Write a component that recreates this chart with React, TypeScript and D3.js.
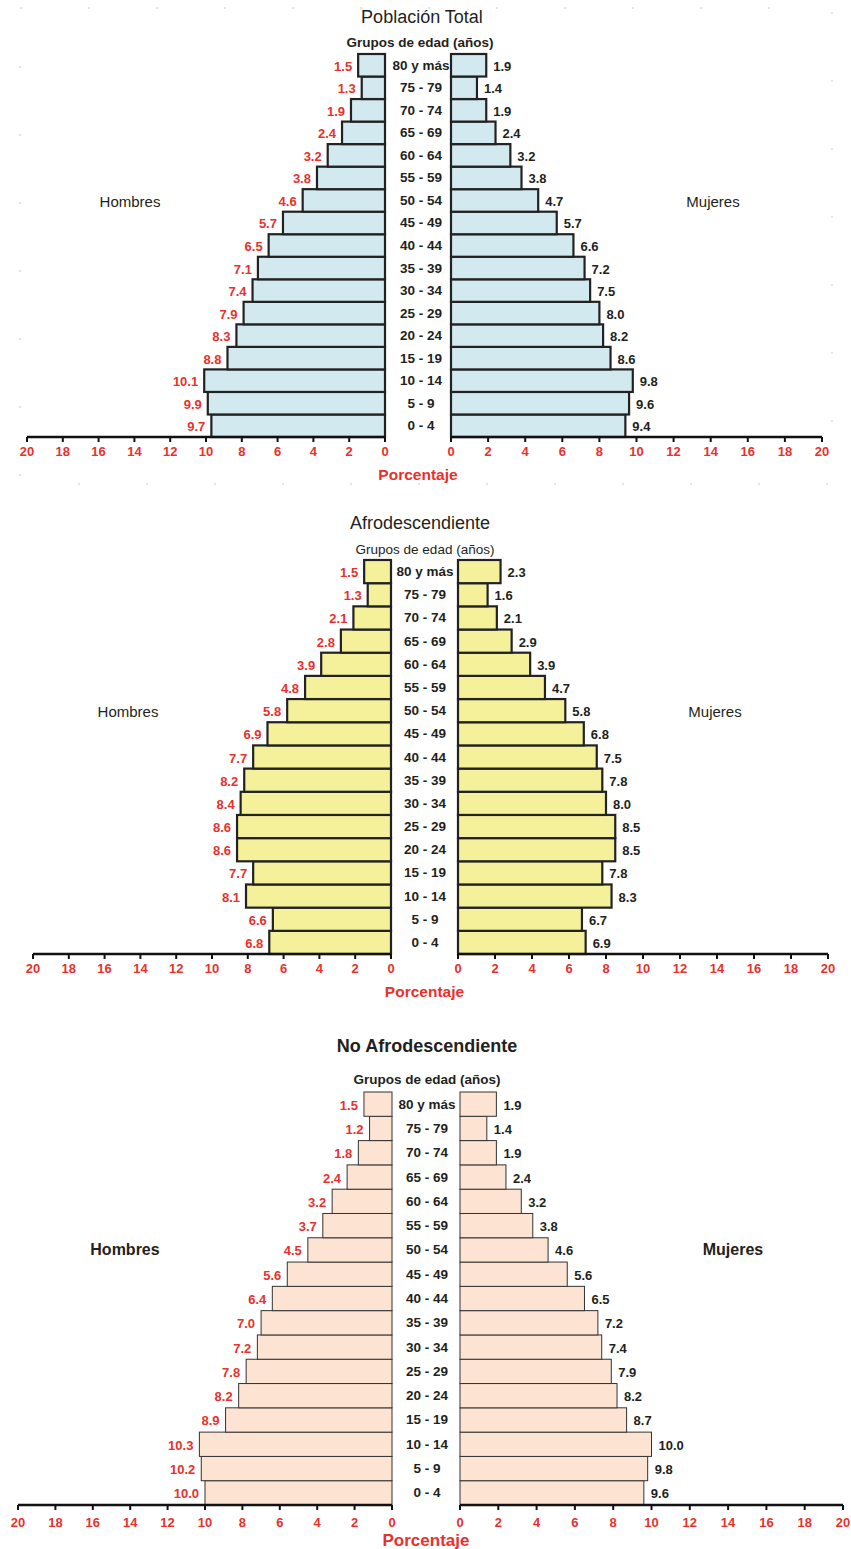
import React from "react";
import * as d3 from "d3";

// ---- Data (youngest to oldest) ----
const ageGroups = ["0 - 4", "5 - 9", "10 - 14", "15 - 19", "20 - 24", "25 - 29", "30 - 34", "35 - 39", "40 - 44", "45 - 49", "50 - 54", "55 - 59", "60 - 64", "65 - 69", "70 - 74", "75 - 79", "80 y más"];
const ticks = [0, 2, 4, 6, 8, 10, 12, 14, 16, 18, 20];

const totalMen = [9.7, 9.9, 10.1, 8.8, 8.3, 7.9, 7.4, 7.1, 6.5, 5.7, 4.6, 3.8, 3.2, 2.4, 1.9, 1.3, 1.5];
const totalWomen = [9.4, 9.6, 9.8, 8.6, 8.2, 8.0, 7.5, 7.2, 6.6, 5.7, 4.7, 3.8, 3.2, 2.4, 1.9, 1.4, 1.9];
const afroMen = [6.8, 6.6, 8.1, 7.7, 8.6, 8.6, 8.4, 8.2, 7.7, 6.9, 5.8, 4.8, 3.9, 2.8, 2.1, 1.3, 1.5];
const afroWomen = [6.9, 6.7, 8.3, 7.8, 8.5, 8.5, 8.0, 7.8, 7.5, 6.8, 5.8, 4.7, 3.9, 2.9, 2.1, 1.6, 2.3];
const noAfroMen = [10.0, 10.2, 10.3, 8.9, 8.2, 7.8, 7.2, 7.0, 6.4, 5.6, 4.5, 3.7, 3.2, 2.4, 1.8, 1.2, 1.5];
const noAfroWomen = [9.6, 9.8, 10.0, 8.7, 8.2, 7.9, 7.4, 7.2, 6.5, 5.6, 4.6, 3.8, 3.2, 2.4, 1.9, 1.4, 1.9];

const FONT = "'Liberation Sans Narrow', 'Liberation Sans', Arial, sans-serif";
const RED = "#e8312c";
const DARK = "#231f20";

type PanelCfg = {
  title: string;
  titleX: number; titleY: number; titleBold: boolean;
  subX: number; subY: number; subBold: boolean;
  barTop: number; barBottom: number;
  leftX0: number; leftX20: number; rightX0: number; rightX20: number;
  labelX: number;
  hombresX: number; mujeresX: number; sideY: number; sideBold: boolean; sideSize: number;
  tickLabelY: number; porcY: number; porcSize: number;
  fill: string; strokeW: number; stroke: string;
  men: number[]; women: number[];
};

function Panel({ c }: { c: PanelCfg }) {
  const yDomain = ageGroups.slice().reverse();
  const y = d3.scaleBand<string>().domain(yDomain).range([c.barTop, c.barBottom]).padding(0);
  const xl = d3.scaleLinear().domain([0, 20]).range([c.leftX0, c.leftX20]);
  const xr = d3.scaleLinear().domain([0, 20]).range([c.rightX0, c.rightX20]);
  const bw = y.bandwidth();
  const fmt = d3.format(".1f");
  const axisY = c.barBottom;
  return (
    <g fontFamily={FONT}>
      <text x={c.titleX} y={c.titleY} textAnchor="middle" dominantBaseline="central" fontSize={18} fontWeight={c.titleBold ? "bold" : "normal"} fill={DARK}>{c.title}</text>
      <text x={c.subX} y={c.subY} textAnchor="middle" dominantBaseline="central" fontSize={13.5} fontWeight={c.subBold ? "bold" : "normal"} fill={DARK}>Grupos de edad (años)</text>
      <text x={c.hombresX} y={c.sideY} textAnchor="middle" dominantBaseline="central" fontSize={c.sideSize} fontWeight={c.sideBold ? "bold" : "normal"} fill={DARK}>Hombres</text>
      <text x={c.mujeresX} y={c.sideY} textAnchor="middle" dominantBaseline="central" fontSize={c.sideSize} fontWeight={c.sideBold ? "bold" : "normal"} fill={DARK}>Mujeres</text>
      {ageGroups.map((a) => (
        <text key={"l" + a} x={c.labelX} y={(y(a) as number) + bw / 2} textAnchor="middle" dominantBaseline="central" fontSize={13.5} fontWeight="bold" fill={DARK}>{a}</text>
      ))}
      {ageGroups.map((a, i) => (
        <g key={"b" + a}>
          <rect x={xl(c.men[i])} y={y(a)} width={xl(0) - xl(c.men[i])} height={bw} fill={c.fill} stroke={c.stroke} strokeWidth={c.strokeW} />
          <rect x={xr(0)} y={y(a)} width={xr(c.women[i]) - xr(0)} height={bw} fill={c.fill} stroke={c.stroke} strokeWidth={c.strokeW} />
          <text x={xl(c.men[i]) - 6} y={(y(a) as number) + bw / 2 + 1} textAnchor="end" dominantBaseline="central" fontSize={13} fontWeight="bold" fill={RED}>{fmt(c.men[i])}</text>
          <text x={xr(c.women[i]) + 7} y={(y(a) as number) + bw / 2 + 1} textAnchor="start" dominantBaseline="central" fontSize={13} fontWeight="bold" fill={DARK}>{fmt(c.women[i])}</text>
        </g>
      ))}
      <line x1={xl(20)} x2={xl(0)} y1={axisY} y2={axisY} stroke="#111" strokeWidth={2.5} />
      <line x1={xr(0)} x2={xr(20)} y1={axisY} y2={axisY} stroke="#111" strokeWidth={2.5} />
      {ticks.map((t) => (
        <g key={"t" + t}>
          <line x1={xl(t)} x2={xl(t)} y1={axisY} y2={axisY + 5} stroke="#111" strokeWidth={2} />
          <line x1={xr(t)} x2={xr(t)} y1={axisY} y2={axisY + 5} stroke="#111" strokeWidth={2} />
          <text x={xl(t)} y={c.tickLabelY} textAnchor="middle" dominantBaseline="central" fontSize={13} fontWeight="bold" fill={RED}>{t}</text>
          <text x={xr(t)} y={c.tickLabelY} textAnchor="middle" dominantBaseline="central" fontSize={13} fontWeight="bold" fill={RED}>{t}</text>
        </g>
      ))}
      <text x={(c.leftX0 + c.rightX0) / 2} y={c.porcY} textAnchor="middle" dominantBaseline="central" fontSize={c.porcSize} fontWeight="bold" fill={RED}>Porcentaje</text>
    </g>
  );
}

const panels: PanelCfg[] = [
  {
    title: "Población Total", titleX: 422, titleY: 17, titleBold: false,
    subX: 420, subY: 42, subBold: true,
    barTop: 54, barBottom: 437,
    leftX0: 385, leftX20: 27, rightX0: 451, rightX20: 822,
    labelX: 421,
    hombresX: 130, mujeresX: 713, sideY: 201, sideBold: false, sideSize: 15,
    tickLabelY: 451, porcY: 474, porcSize: 15.5,
    fill: "#d2e9ef", strokeW: 2.2, stroke: "#222",
    men: totalMen, women: totalWomen,
  },
  {
    title: "Afrodescendiente", titleX: 420, titleY: 523, titleBold: false,
    subX: 425, subY: 549, subBold: false,
    barTop: 560, barBottom: 954,
    leftX0: 391, leftX20: 33, rightX0: 458, rightX20: 828,
    labelX: 425,
    hombresX: 128, mujeresX: 715, sideY: 711, sideBold: false, sideSize: 15,
    tickLabelY: 968, porcY: 991, porcSize: 15.5,
    fill: "#f5f19a", strokeW: 2.2, stroke: "#222",
    men: afroMen, women: afroWomen,
  },
  {
    title: "No Afrodescendiente", titleX: 427, titleY: 1046, titleBold: true,
    subX: 427, subY: 1079, subBold: true,
    barTop: 1092, barBottom: 1505,
    leftX0: 392, leftX20: 18, rightX0: 460, rightX20: 843,
    labelX: 427,
    hombresX: 125, mujeresX: 733, sideY: 1249, sideBold: true, sideSize: 16,
    tickLabelY: 1522, porcY: 1540, porcSize: 17,
    fill: "#fde3d2", strokeW: 1, stroke: "#333",
    men: noAfroMen, women: noAfroWomen,
  },
];

export default function App() {
  return (
    <svg width={851} height={1549} style={{ position: "absolute", left: 0, top: 0, background: "#fff" }}>
      <rect x={20} y={8} width={812} height={476} fill="none" stroke="#c8c8c8" strokeWidth={1} strokeDasharray="2 66" />
      {panels.map((p) => (
        <Panel key={p.title} c={p} />
      ))}
    </svg>
  );
}
